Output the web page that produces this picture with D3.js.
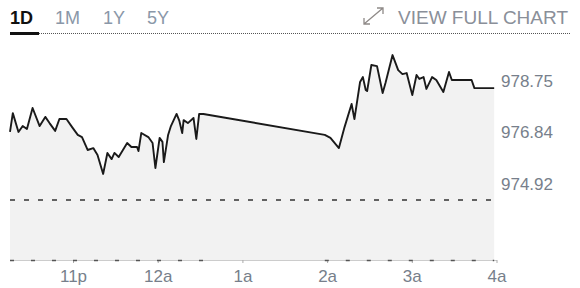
<!DOCTYPE html>
<html lang="en">
<head>
<meta charset="UTF-8">
<title>1D chart</title>
<script src="https://cdn.jsdelivr.net/npm/d3@7"></script>
<style>
  body { margin: 0; background: #fff; }
  svg { display: block; font-family: "Liberation Sans", Arial, sans-serif; }
  .tab { font-size: 18px; fill: #8a97a8; }
  .tab.active { fill: #111; font-weight: bold; }
  .ylab, .xlab { font-size: 17px; fill: #777f8b; }
</style>
</head>
<body>
<svg id="chart" width="580" height="288"></svg>
<script>
  // price track
  let times = ["22:15","22:17","22:21","22:24","22:27","22:31","22:36","22:40","22:43","22:47",
    "22:50","22:55","22:59","23:03","23:06","23:10","23:14","23:17","23:21","23:24",
    "23:27","23:29","23:32","23:38","23:41","23:45","23:46","23:48","23:53","23:56",
    "23:58","00:01","00:03","00:04","00:07","00:09","00:13","00:15","00:17","00:18",
    "00:21","00:25","00:27","00:29","00:32","01:58","02:02","02:08","02:12","02:17",
    "02:19","02:23","02:25","02:27","02:28","02:31","02:35","02:39","02:41","02:46",
    "02:50","02:53","02:56","03:00","03:03","03:05","03:08","03:10","03:14","03:17",
    "03:22","03:26","03:28","03:42","03:44","03:58"];
  let values = [977.45,978.15,977.45,977.67,977.56,978.34,977.67,978.01,977.78,977.49,
    977.93,977.93,977.63,977.34,977.26,976.78,976.85,976.59,975.89,976.67,
    976.44,976.67,976.52,977.04,976.89,976.89,976.74,977.41,977.26,977.04,
    976.11,977.23,977.08,976.33,977.34,977.67,978.12,977.86,977.41,977.89,
    977.78,977.97,977.19,978.12,978.12,977.34,977.23,976.85,977.63,978.49,
    977.93,979.31,979.49,979.01,978.97,979.94,979.90,978.90,979.27,980.31,
    979.75,979.60,979.64,978.82,979.57,979.42,979.49,979.05,979.49,979.38,
    978.94,979.68,979.38,979.38,979.08,979.08];
  let yTicks = [974.92, 976.84, 978.75];
  let refLevel = 974.92;
  let tabs = ["1D", "1M", "1Y", "5Y"];
  let sessions = [["22:15", "00:32"], ["01:58", "03:58"]];
  let startTime = "22:15", endTime = "04:00";

  // times before noon belong to the next day
  function toDate(s) {
    let p = s.split(":").map(Number);
    return new Date(2024, 0, p[0] >= 12 ? 1 : 2, p[0], p[1]);
  }

  let data = times.map((t, i) => ({ t: toDate(t), v: values[i] }));

  let svg = d3.select("#chart");

  let x = d3.scaleTime()
    .domain([toDate(startTime), toDate(endTime)])
    .range([10, 497]);
  let y = d3.scaleLinear()
    .domain([974.92, 978.75])
    .range([200, 97]);
  let bottom = 260;

  // header tabs
  let tabX = [10, 55, 103, 147];
  svg.selectAll(".tab")
    .data(tabs)
    .enter().append("text")
    .attr("class", (d, i) => i === 0 ? "tab active" : "tab")
    .attr("x", (d, i) => tabX[i])
    .attr("y", 24)
    .text(d => d);

  svg.append("line")
    .attr("x1", 39).attr("x2", 570)
    .attr("y1", 33.5).attr("y2", 33.5)
    .attr("stroke", "#555").attr("stroke-width", 1)
    .attr("stroke-dasharray", "1,1");
  svg.append("rect")
    .attr("x", 10).attr("y", 32)
    .attr("width", 29).attr("height", 3)
    .attr("fill", "#111");

  // view full chart link
  let link = svg.append("g").attr("stroke", "#8f8a88").attr("fill", "none").attr("stroke-width", 1.3);
  link.append("path").attr("d", "M364,24 L383,8 M377,8 L383,8 L383,14 M364,18 L364,24 L370,24");
  svg.append("text")
    .attr("x", 568).attr("y", 24)
    .attr("text-anchor", "end")
    .attr("font-size", 19)
    .attr("fill", "#8a8f99")
    .text("VIEW FULL CHART");

  // area + line
  let area = d3.area()
    .x(d => x(d.t))
    .y0(bottom)
    .y1(d => y(d.v));
  svg.append("path")
    .datum(data)
    .attr("d", area)
    .attr("fill", "#f2f2f2");

  // reference dashed line
  svg.append("line")
    .attr("x1", x(data[0].t)).attr("x2", x(data[data.length - 1].t))
    .attr("y1", y(refLevel)).attr("y2", y(refLevel))
    .attr("stroke", "#333").attr("stroke-width", 1.5)
    .attr("stroke-dasharray", "5,9");

  let line = d3.line()
    .x(d => x(d.t))
    .y(d => y(d.v));
  svg.append("path")
    .datum(data)
    .attr("d", line)
    .attr("fill", "none")
    .attr("stroke", "#1a1a1a")
    .attr("stroke-width", 1.9)
    .attr("stroke-linejoin", "round");

  // x axis
  let xAxis = svg.append("g").attr("transform", "translate(0," + bottom + ")");
  xAxis.append("line")
    .attr("x1", 10).attr("x2", 497)
    .attr("y1", 0.5).attr("y2", 0.5)
    .attr("stroke", "#ccc");
  let hours = x.ticks(d3.timeHour.every(1));
  xAxis.selectAll(".tick")
    .data(hours)
    .enter().append("line")
    .attr("x1", d => x(d)).attr("x2", d => x(d))
    .attr("y1", 0).attr("y2", 3)
    .attr("stroke", "#aaa");
  xAxis.selectAll(".xlab")
    .data(hours)
    .enter().append("text")
    .attr("class", "xlab")
    .attr("x", d => x(d))
    .attr("y", 22)
    .attr("text-anchor", "middle")
    .text(d => d3.timeFormat("%-I")(d) + (d.getHours() < 12 ? "a" : "p"));

  // session marks on the base line
  xAxis.selectAll(".sess")
    .data(sessions)
    .enter().append("line")
    .attr("x1", d => x(toDate(d[0]))).attr("x2", d => x(toDate(d[1])))
    .attr("y1", 0.5).attr("y2", 0.5)
    .attr("stroke", "#555").attr("stroke-width", 1.5)
    .attr("stroke-dasharray", "4,17");

  // y labels
  svg.selectAll(".ylab")
    .data(yTicks)
    .enter().append("text")
    .attr("class", "ylab")
    .attr("x", 501)
    .attr("y", d => y(d) - 10)
    .text(d => d.toFixed(2));
</script>
</body>
</html>
